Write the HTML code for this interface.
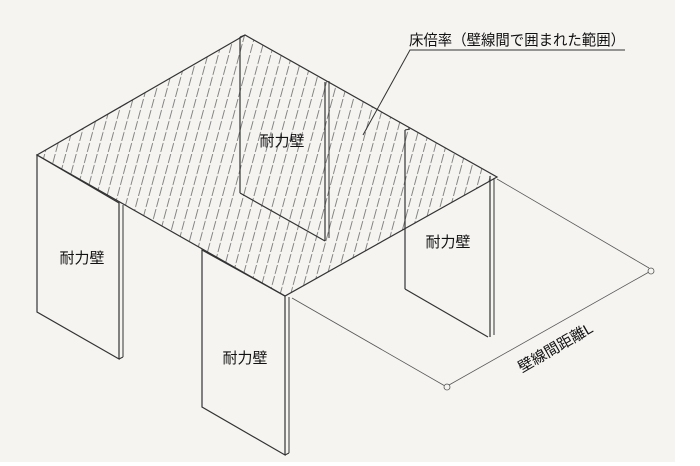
<!DOCTYPE html>
<html><head><meta charset="utf-8"><style>
html,body{margin:0;padding:0;background:#fff;}
svg{display:block;}
text{font-family:"Liberation Sans","Noto Sans CJK JP",sans-serif;fill:#111;}
</style></head><body>
<svg width="700" height="466" viewBox="0 0 700 466" xmlns="http://www.w3.org/2000/svg">
<defs>
<pattern id="h" patternUnits="userSpaceOnUse" width="10.5" height="210" patternTransform="skewX(-15)">
<line x1="2" y1="0" x2="2" y2="210" stroke="#666" stroke-width="0.8" stroke-dasharray="9 2"/>
</pattern>
</defs>
<rect x="0" y="0" width="675" height="462" fill="#f5f4f1"/>
<polygon points="245,35 37,155 285,296 497,177" fill="url(#h)" stroke="none"/>
<polygon points="37,155 119,203 119,359 37,312" fill="#f5f4f1" stroke="#333" stroke-width="1.2"/>
<line x1="123" y1="205" x2="123" y2="357" stroke="#333" stroke-width="1"/>
<line x1="119" y1="359" x2="123" y2="357" stroke="#333" stroke-width="1"/>
<polygon points="202,250 285,296 285,455 202,407" fill="#f5f4f1" stroke="#333" stroke-width="1.2"/>
<line x1="289" y1="297" x2="289" y2="453" stroke="#333" stroke-width="1"/>
<line x1="285" y1="455" x2="289" y2="453" stroke="#333" stroke-width="1"/>
<polygon points="405,244 490,195 490,337 405,289" fill="#f5f4f1" stroke="none"/>
<line x1="405" y1="130" x2="405" y2="289" stroke="#333" stroke-width="1.2"/>
<line x1="405" y1="289" x2="488" y2="337" stroke="#333" stroke-width="1.2"/>
<line x1="490" y1="176" x2="490" y2="337" stroke="#333" stroke-width="1.2"/>
<line x1="494" y1="178" x2="494" y2="335" stroke="#333" stroke-width="1"/>
<line x1="405" y1="130" x2="410" y2="129" stroke="#333" stroke-width="1"/>
<line x1="240" y1="37" x2="240" y2="193" stroke="#333" stroke-width="1.2"/>
<line x1="240" y1="193" x2="325" y2="241" stroke="#333" stroke-width="1.2"/>
<line x1="325" y1="82" x2="325" y2="241" stroke="#333" stroke-width="1.2"/>
<line x1="329" y1="81" x2="329" y2="238" stroke="#333" stroke-width="1"/>
<polygon points="245,35 37,155 285,296 497,177" fill="none" stroke="#333" stroke-width="1.2"/>
<line x1="240" y1="37" x2="245" y2="35" stroke="#333" stroke-width="1"/>
<g stroke="#555" stroke-width="0.8" fill="none">
<line x1="292" y1="298" x2="445" y2="386"/>
<line x1="449" y1="385" x2="649" y2="272"/>
<line x1="497" y1="179" x2="649" y2="268"/>
<circle cx="447" cy="387" r="3" fill="#f5f4f1"/>
<circle cx="651" cy="271" r="3" fill="#f5f4f1"/>
</g>
<polyline points="363,135 410,50 625,50" fill="none" stroke="#333" stroke-width="1"/>
<text x="409" y="45" font-size="15" textLength="216" lengthAdjust="spacingAndGlyphs">床倍率（壁線間で囲まれた範囲）</text>
<text x="282" y="146" font-size="15" text-anchor="middle">耐力壁</text>
<text x="82" y="263" font-size="15" text-anchor="middle">耐力壁</text>
<text x="245" y="363" font-size="15" text-anchor="middle">耐力壁</text>
<text x="448" y="247" font-size="15" text-anchor="middle">耐力壁</text>
<text x="0" y="0" font-size="15" text-anchor="middle" transform="translate(558,352) rotate(-30)">壁線間距離L</text>
</svg>
</body></html>
